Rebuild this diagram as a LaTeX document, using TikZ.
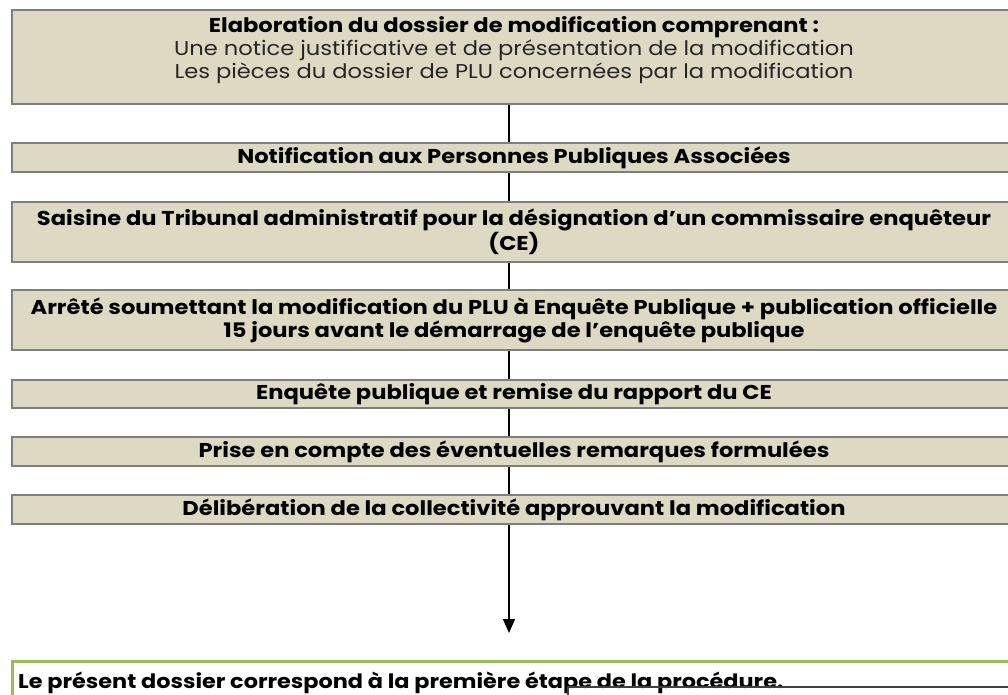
\documentclass[tikz,border=0pt]{standalone}
\usepackage{fontspec}
\setmainfont[FakeStretch=1.13]{Poppins}
\usetikzlibrary{arrows.meta}
\definecolor{tan}{HTML}{DDD9C3}
\definecolor{bordergray}{HTML}{7F7F7F}
\definecolor{greenline}{HTML}{9BBB59}
\definecolor{darkline}{HTML}{404040}
\definecolor{regtext}{HTML}{262626}
\tikzset{
  stepbox/.style={draw=bordergray, line width=2pt, fill=tan, minimum width=1004pt, inner sep=0pt, align=center, font=\fontsize{20}{23}\selectfont\bfseries},
  link/.style={line width=1.5pt, black},
}
\begin{document}
\begin{tikzpicture}[x=1pt,y=-1pt]
\useasboundingbox (0,0) rectangle (1008,695);
\coordinate (spine) at (509,0);
\node[stepbox, minimum height=94pt] (b1) at (514,57) {};
\node[align=center, inner sep=0pt, font=\fontsize{20}{23}\selectfont] (b1text) at (514,50) {\bfseries Elaboration du dossier de modification comprenant :\\ \color{regtext}Une notice justificative et de présentation de la modification\\ \color{regtext}Les pièces du dossier de PLU concernées par la modification};
\node[stepbox, minimum height=29pt] (b2) at (514,157.5) {Notification aux Personnes Publiques Associées};
\node[stepbox, minimum height=60pt] (b3) at (514,232) {Saisine du Tribunal administratif pour la désignation d’un commissaire enquêteur\\(CE)};
\node[stepbox, minimum height=60pt] (b4) at (514,320) {Arrêté soumettant la modification du PLU à Enquête Publique + publication officielle\\15 jours avant le démarrage de l’enquête publique};
\node[stepbox, minimum height=28pt] (b5) at (514,394) {Enquête publique et remise du rapport du CE};
\node[stepbox, minimum height=29pt] (b6) at (514,451.5) {Prise en compte des éventuelles remarques formulées};
\node[stepbox, minimum height=29pt] (b7) at (514,509.5) {Délibération de la collectivité approuvant la modification};
\draw[link] (b1.south -| spine) -- (b2.north -| spine);
\draw[link] (b2.south -| spine) -- (b3.north -| spine);
\draw[link] (b3.south -| spine) -- (b4.north -| spine);
\draw[link] (b4.south -| spine) -- (b5.north -| spine);
\draw[link] (b5.south -| spine) -- (b6.north -| spine);
\draw[link] (b6.south -| spine) -- (b7.north -| spine);
\coordinate (tip) at (509,633);
\draw[link, -{Triangle[width=12pt,length=14pt]}] (b7.south -| spine) -- (tip);
\draw[greenline, line width=3pt] (12,705) -- (12,661) -- (1015,661);
\node[anchor=west, inner sep=0pt, font=\fontsize{19.8}{22}\selectfont\bfseries] (note) at (18,683) {Le présent dossier correspond à la première étape de la procédure.};
\coordinate (corner) at (568,687);
\draw[darkline, line width=1.2pt] (568,700) -- (corner) -- (1010,687);
\end{tikzpicture}
\end{document}
